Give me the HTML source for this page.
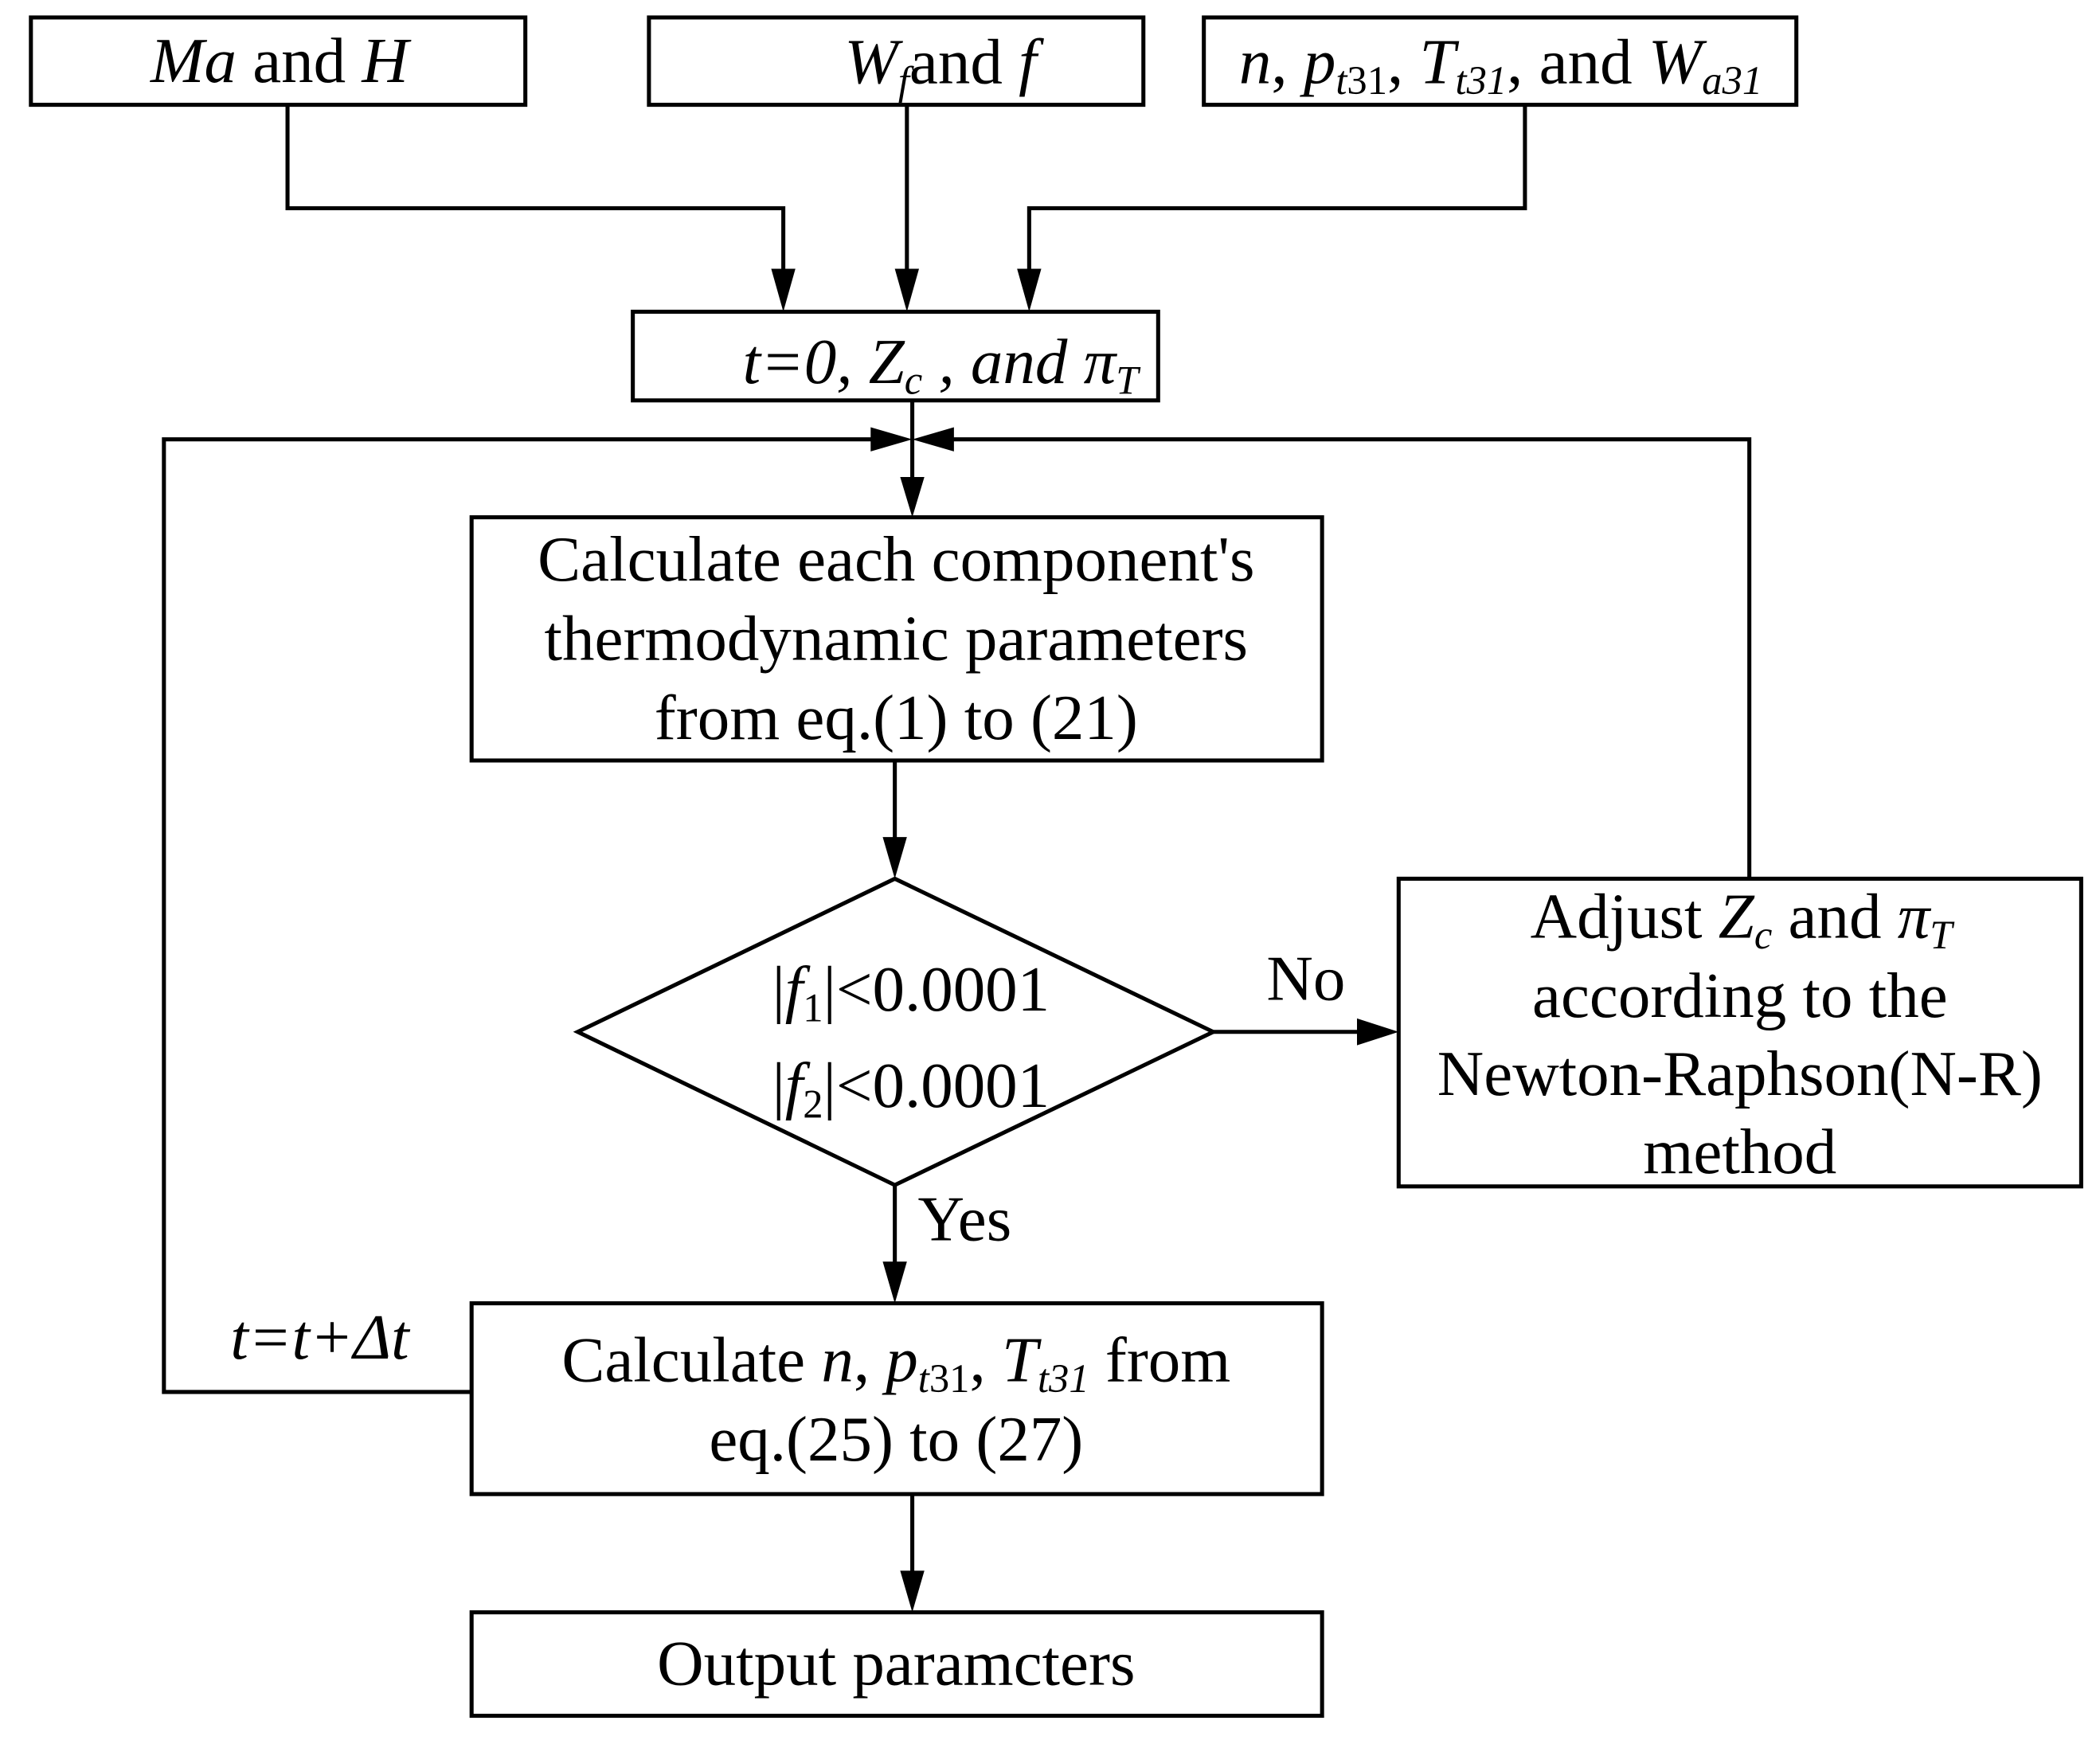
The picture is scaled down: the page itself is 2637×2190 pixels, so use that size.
<!DOCTYPE html>
<html><head><meta charset="utf-8"><style>
html,body{margin:0;padding:0;background:#fff;}
svg{display:block;}
text{font-family:"Liberation Serif",serif;fill:#000;}
</style></head><body>
<svg width="2637" height="2190" viewBox="0 0 1563 1298" preserveAspectRatio="none" xmlns="http://www.w3.org/2000/svg">
<g fill="none" stroke="#000" stroke-width="3">
<rect x="23" y="13" width="368" height="65"/>
<rect x="483" y="13" width="368" height="65"/>
<rect x="896" y="13" width="441" height="65"/>
<rect x="471" y="232" width="391" height="66"/>
<rect x="351" y="385" width="633" height="181"/>
<rect x="1041" y="654" width="508" height="229"/>
<rect x="351" y="970" width="633" height="142"/>
<rect x="351" y="1200" width="633" height="77"/>
<polygon points="666,654 903,768 666,882 430,768"/>
<polyline points="214,78 214,155 583,155 583,205"/>
<line x1="675" y1="78" x2="675" y2="205"/>
<polyline points="1135,78 1135,155 766,155 766,205"/>
<line x1="679" y1="298" x2="679" y2="358"/>
<polyline points="351,1036 122,1036 122,327 650,327"/>
<polyline points="1302,654 1302,327 708,327"/>
<line x1="666" y1="566" x2="666" y2="627"/>
<line x1="903" y1="768" x2="1013" y2="768"/>
<line x1="666" y1="882" x2="666" y2="942"/>
<line x1="679" y1="1112" x2="679" y2="1172"/>
</g>
<g fill="#000">
<polygon points="574,200 592,200 583,232"/>
<polygon points="666,200 684,200 675,232"/>
<polygon points="757,200 775,200 766,232"/>
<polygon points="670,355 688,355 679,385"/>
<polygon points="648,318 648,336 679,327"/>
<polygon points="710,318 710,336 679,327"/>
<polygon points="657,623 675,623 666,654"/>
<polygon points="1010,758 1010,778 1041,768"/>
<polygon points="657,939 675,939 666,970"/>
<polygon points="670,1169 688,1169 679,1200"/>
</g>
<g font-size="48" text-anchor="middle">
<text x="208" y="61"><tspan font-style="italic">Ma</tspan> and <tspan font-style="italic">H</tspan></text>
<text x="700" y="62"><tspan font-style="italic">W</tspan><tspan font-style="italic" font-size="30" dy="8">f</tspan><tspan dy="-8">and </tspan><tspan font-style="italic">f</tspan></text>
<text x="1117" y="62"><tspan font-style="italic">n</tspan>,  <tspan font-style="italic">p</tspan><tspan font-size="30" dy="8" font-style="italic">t</tspan><tspan font-size="30">31</tspan><tspan dy="-8">, </tspan><tspan font-style="italic">T</tspan><tspan font-size="30" dy="8" font-style="italic">t31</tspan><tspan dy="-8">, and </tspan><tspan font-style="italic">W</tspan><tspan font-size="30" dy="8" font-style="italic">a31</tspan></text>
<text x="700" y="285" font-style="italic">t=0, Z<tspan font-size="30" dy="8">c</tspan><tspan dy="-8"> , and π</tspan><tspan font-size="30" dy="8">T</tspan></text>
<text x="667" y="432">Calculate each component's</text>
<text x="667" y="491">thermodynamic parameters</text>
<text x="667" y="550">from eq.(1) to (21)</text>
<text x="678" y="752">|<tspan font-style="italic">f</tspan><tspan font-size="30" dy="8">1</tspan><tspan dy="-8">|&lt;0.0001</tspan></text>
<text x="678" y="824">|<tspan font-style="italic">f</tspan><tspan font-size="30" dy="8">2</tspan><tspan dy="-8">|&lt;0.0001</tspan></text>
<text x="972" y="744">No</text>
<text x="718" y="923">Yes</text>
<text x="1296" y="698">Adjust <tspan font-style="italic">Z</tspan><tspan font-size="30" dy="8" font-style="italic">c</tspan><tspan dy="-8"> and </tspan><tspan font-style="italic">π</tspan><tspan font-size="30" dy="8" font-style="italic">T</tspan></text>
<text x="1295" y="757">according to the</text>
<text x="1295" y="815">Newton-Raphson(N-R)</text>
<text x="1295" y="873">method</text>
<text x="238" y="1011" font-style="italic">t=t+Δt</text>
<text x="667" y="1028">Calculate  <tspan font-style="italic">n</tspan>,  <tspan font-style="italic">p</tspan><tspan font-size="30" dy="8" font-style="italic">t</tspan><tspan font-size="30">31</tspan><tspan dy="-8">, </tspan><tspan font-style="italic">T</tspan><tspan font-size="30" dy="8" font-style="italic">t31</tspan><tspan dy="-8"> from</tspan></text>
<text x="667" y="1087">eq.(25) to (27)</text>
<text x="667" y="1254">Output paramcters</text>
</g>
</svg>
</body></html>
